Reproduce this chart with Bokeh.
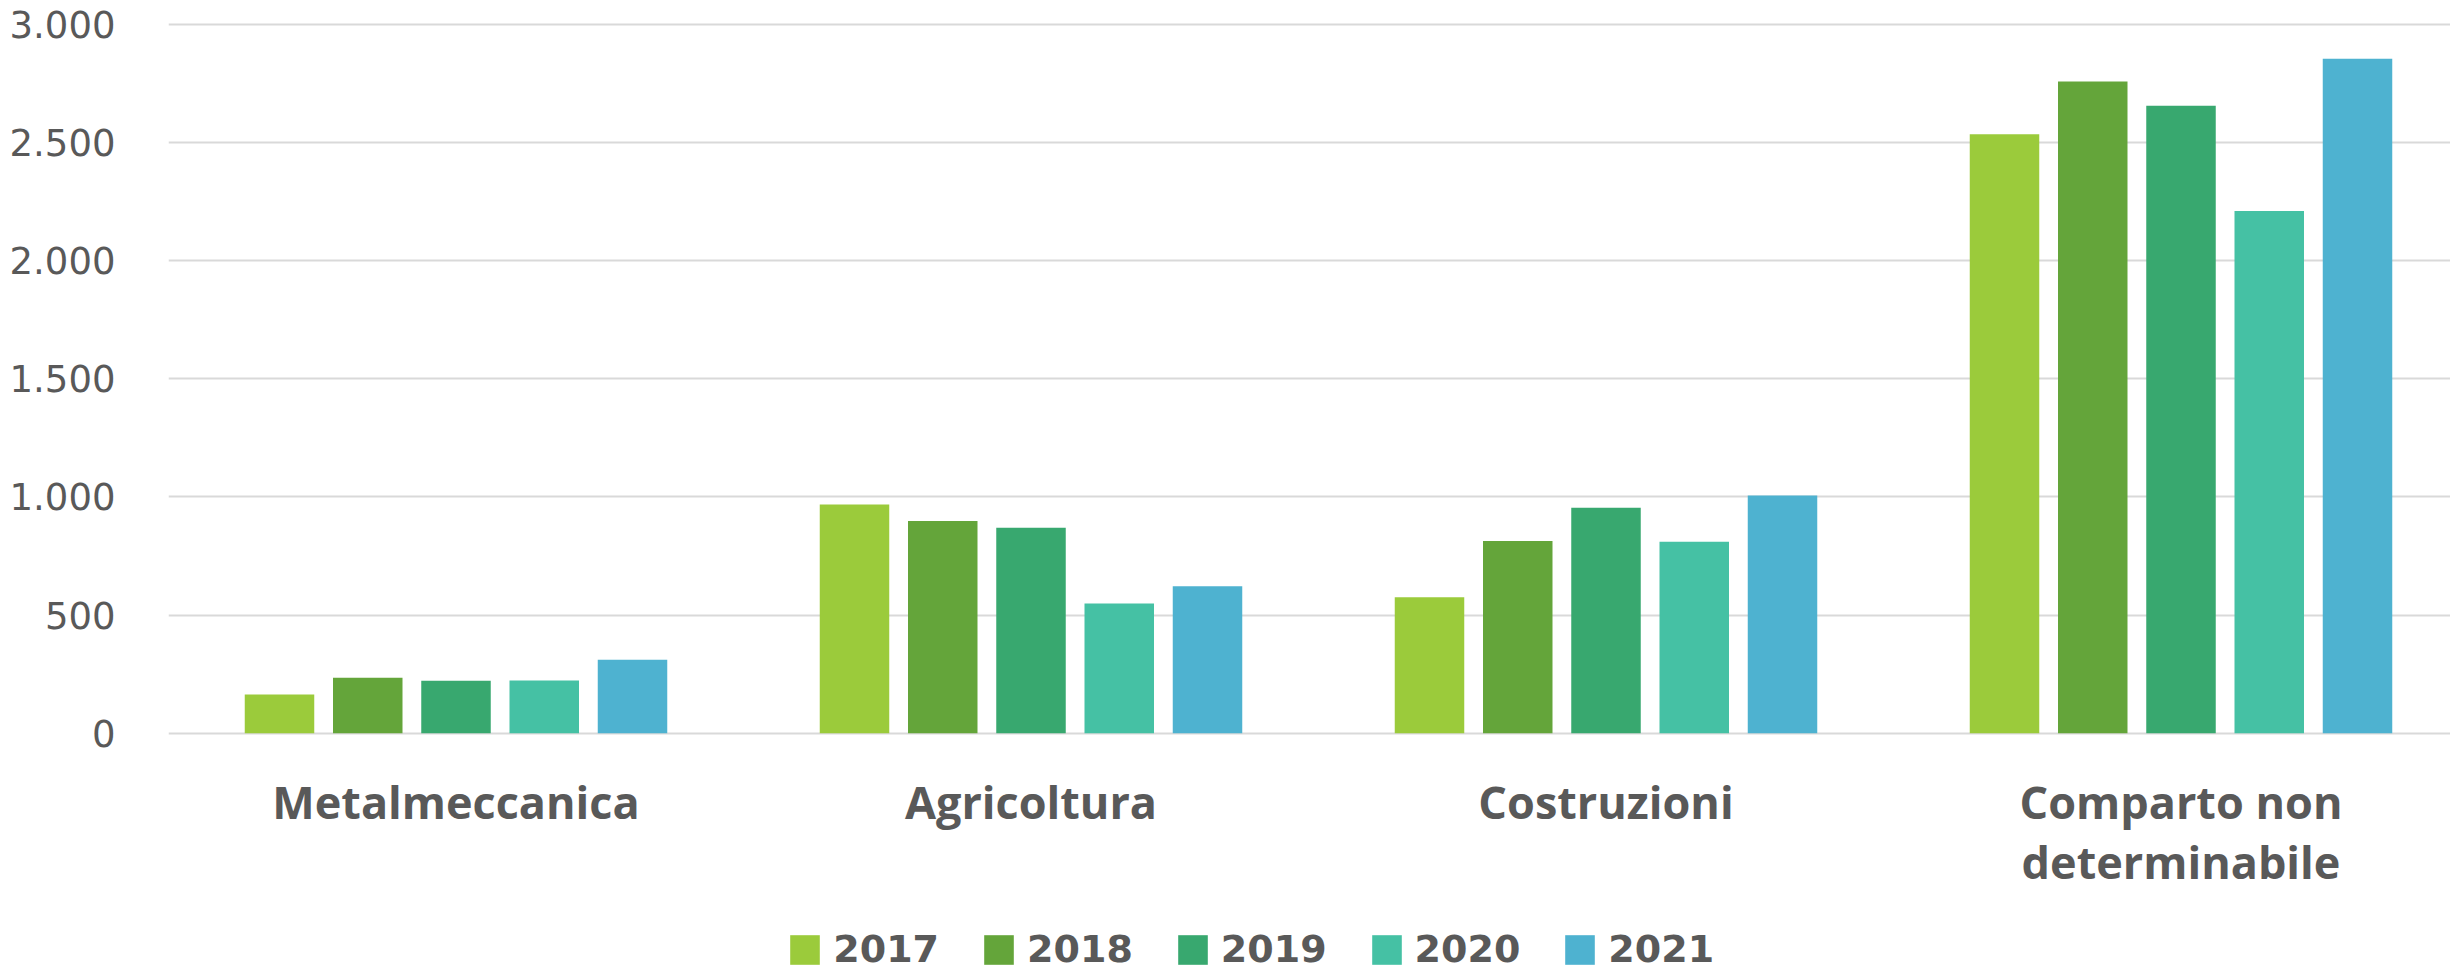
from bokeh.plotting import figure
from bokeh.models import Range1d, FixedTicker, Legend, LegendItem, ColumnDataSource
from bokeh.core.properties import value
from bokeh.embed import file_html
from bokeh.resources import INLINE
import numpy as np

categories = ["Metalmeccanica", "Agricoltura", "Costruzioni", "Comparto non\ndeterminabile"]
years = ["2017", "2018", "2019", "2020", "2021"]
colors = ["#9BCB3B", "#64A53A", "#38A86F", "#45C1A4", "#4EB2D0"]

v2017 = [164, 968, 576, 2535]
v2018 = [235, 898, 814, 2759]
v2019 = [222, 870, 954, 2656]
v2020 = [223, 549, 810, 2210]
v2021 = [311, 622, 1006, 2855]
series = [v2017, v2018, v2019, v2020, v2021]

y_ticks = [0, 500, 1000, 1500, 2000, 2500, 3000]
y_tick_labels = ["0", "500", "1.000", "1.500", "2.000", "2.500", "3.000"]

GRAY = "#595959"
W, H = 2450, 971
LEFT, TOP = 168, 4
frame_w = W - LEFT
cat_px = 575.0
pitch = 88.25 / cat_px
bar_w = 69.5 / cat_px

# vertical scale: 3000 at y=24, 0 at y=732.7 (pixels from top)
y0_px, y3000_px = 732.7, 24.0
ppu = (y0_px - y3000_px) / 3000.0
y_end = 3000 + (y3000_px - TOP) / ppu
y_start = -(H - y0_px) / ppu

p = figure(width=W, height=H, output_backend="svg", toolbar_location=None,
           x_range=Range1d(0, frame_w / cat_px), y_range=Range1d(y_start, y_end))
p.min_border_left = LEFT
p.min_border_right = 0
p.min_border_top = TOP
p.min_border_bottom = 0
p.outline_line_color = None
p.background_fill_color = "white"
p.border_fill_color = "white"

centers = np.arange(len(categories)) + 0.5
renderers = []
for j, (yr, vals, col) in enumerate(zip(years, series, colors)):
    src = ColumnDataSource(dict(x=centers + (j - 2) * pitch, top=vals))
    r = p.vbar(x="x", top="top", bottom=0, width=bar_w, source=src,
               fill_color=col, line_color=None)
    renderers.append(r)

# category labels below the bars
line1 = [c.split("\n")[0] for c in categories]
line2 = [c.split("\n")[1] if "\n" in c else "" for c in categories]
base1 = -(801 - y0_px) / ppu
base2 = -(861 - y0_px) / ppu
lab_src = ColumnDataSource(dict(x=centers, y1=[base1] * 4, y2=[base2] * 4, t1=line1, t2=line2))
for ycol, tcol in (("y1", "t1"), ("y2", "t2")):
    p.text(x="x", y=ycol, text=tcol, source=lab_src, text_align="center",
           text_baseline="alphabetic", text_font=value("Open Sans"),
           text_font_style="bold", text_font_size="45px", text_color=GRAY)

p.xaxis.visible = False

p.yaxis.ticker = FixedTicker(ticks=y_ticks)
p.yaxis.major_label_overrides = {t: l for t, l in zip(y_ticks, y_tick_labels)}
p.yaxis.major_label_text_font = "DejaVu Sans"
p.yaxis.major_label_text_font_size = "37px"
p.yaxis.major_label_text_color = GRAY
p.yaxis.major_label_standoff = 47
p.yaxis.axis_line_color = None
p.yaxis.major_tick_line_color = None
p.yaxis.minor_tick_line_color = None

p.xgrid.grid_line_color = None
p.ygrid.ticker = FixedTicker(ticks=y_ticks)
p.ygrid.grid_line_color = "#d9d9d9"
p.ygrid.grid_line_width = 2

legend = Legend(items=[LegendItem(label=yr, renderers=[r]) for yr, r in zip(years, renderers)],
                orientation="horizontal", location=(790 - LEFT - 3.7, 0))
legend.glyph_width = 37
legend.glyph_height = 37
legend.label_standoff = 10
legend.spacing = 41
legend.padding = 0
legend.margin = 0
legend.border_line_color = None
legend.background_fill_alpha = 0
legend.label_text_font = "DejaVu Sans"
legend.label_text_font_style = "bold"
legend.label_text_font_size = "38px"
legend.label_text_color = GRAY
p.add_layout(legend, "center")

open("out.html", "w").write(file_html(p, INLINE))
